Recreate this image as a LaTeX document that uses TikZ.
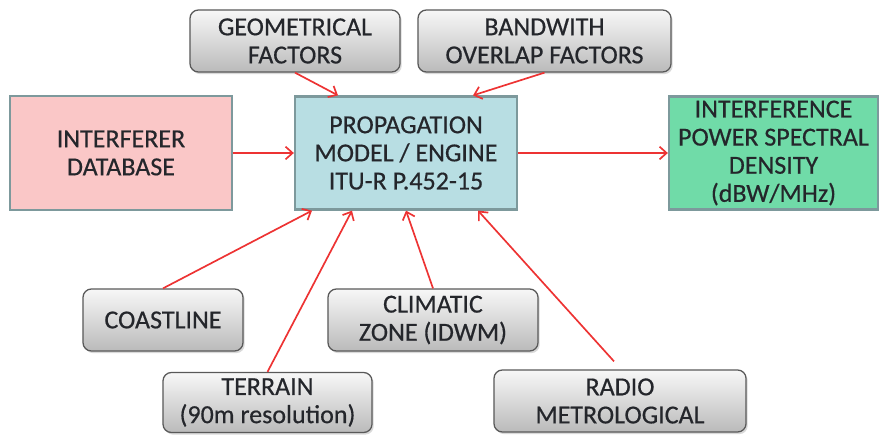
\documentclass[tikz,border=0pt]{standalone}
\usepackage{fontspec}
\setmainfont{Carlito}
\newfontfamily\boxfont{Carlito}[FakeBold=0.5]
\usepackage{tikz}
\usetikzlibrary{arrows.meta,shadows}
\definecolor{boxline}{rgb}{0.49,0.6,0.61}
\definecolor{pinkfill}{rgb}{0.98,0.78,0.78}
\definecolor{bluefill}{rgb}{0.72,0.87,0.89}
\definecolor{greenfill}{rgb}{0.44,0.86,0.66}
\definecolor{feedred}{rgb}{0.93,0.2,0.2}
\definecolor{txt}{rgb}{0.14,0.15,0.17}

\begin{document}
\begin{tikzpicture}[x=0.025cm,y=-0.025cm,
  factor/.style={draw=black!65,line width=0.9pt,rounded corners=6pt,
    top color=black!3,bottom color=black!27,
    drop shadow={shadow xshift=1.2pt,shadow yshift=-1.5pt,opacity=0.3},
    align=center,inner sep=1pt,text=txt,font=\boxfont\fontsize{18.5}{20}\selectfont},
  block/.style={draw=boxline,line width=1.6pt,align=center,inner sep=1pt,
    text=txt,font=\boxfont\fontsize{18.5}{20}\selectfont},
  feed/.style={draw=feedred,line width=1.2pt,-{Straight Barb[length=5pt,width=9pt]}}]

\useasboundingbox (0,0) rectangle (880,436);

\node[factor,minimum width=5.25cm,minimum height=1.55cm] (geo) at (295,41) {GEOMETRICAL\\FACTORS};
\node[factor,minimum width=6.325cm,minimum height=1.55cm] (band) at (544.5,41) {BANDWITH\\OVERLAP FACTORS};

\node[block,fill=pinkfill,minimum width=5.55cm,minimum height=2.85cm] (intf) at (121,153) {INTERFERER\\DATABASE};
\node[block,fill=bluefill,minimum width=5.55cm,minimum height=2.825cm] (prop) at (406,153) {PROPAGATION\\MODEL / ENGINE\\ITU-R P.452-15};
\node[block,fill=greenfill,minimum width=5.225cm,minimum height=2.825cm] (psd) at (773.5,153) {INTERFERENCE\\POWER SPECTRAL\\DENSITY\\(dBW/MHz)};

\node[factor,minimum width=4cm,minimum height=1.55cm] (coast) at (163,320) {COASTLINE};
\node[factor,minimum width=5.25cm,minimum height=1.55cm] (clim) at (433,320) {CLIMATIC\\ZONE (IDWM)};
\node[factor,minimum width=5.225cm,minimum height=1.5cm] (terr) at (267.5,402.5) {TERRAIN\\(90m resolution)};
\node[factor,minimum width=6.3cm,minimum height=1.55cm] (radio) at (620,401) {RADIO\\METROLOGICAL};

% inputs to the engine
\draw[feed] (geo.south) -- ([xshift=-1.7cm]prop.north);
\draw[feed] (band.south) -- ([xshift=1.675cm]prop.north);
\draw[feed] (intf.east) -- (prop.west);
\draw[feed] (prop.east) -- (psd.west);
\draw[feed] (coast.north) -- ([xshift=-2.35cm]prop.south);
\draw[feed] (terr.north) -- ([xshift=-1.35cm]prop.south);
\draw[feed] (clim.north) -- (prop.south);
\draw[feed] ([shift={(-6,-8)}]radio.north) -- ([xshift=1.8cm]prop.south);
\end{tikzpicture}
\end{document}
